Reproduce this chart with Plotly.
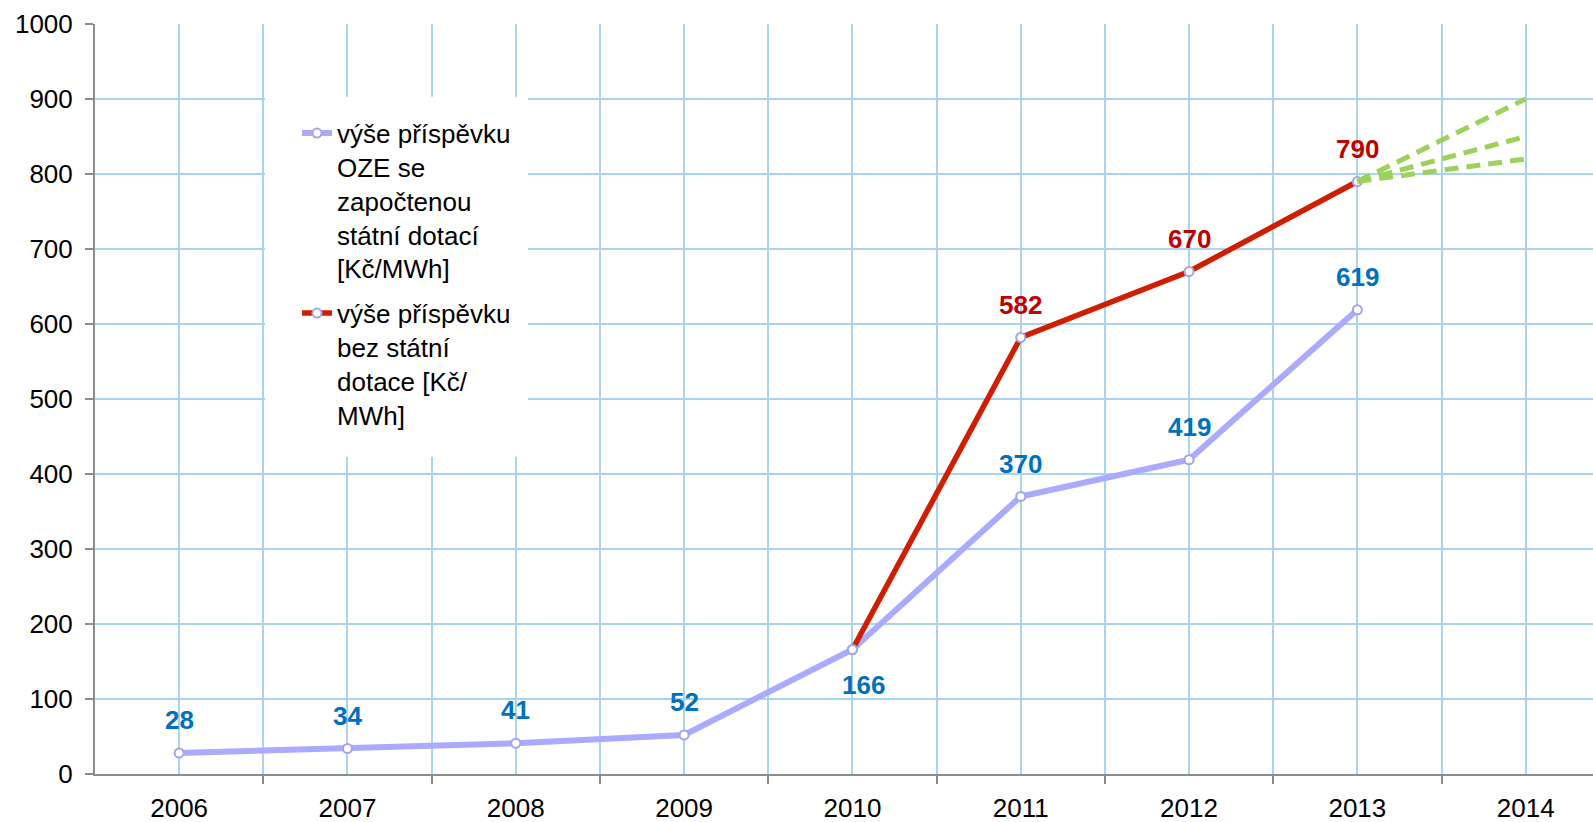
import plotly.graph_objects as go

years = [2006, 2007, 2008, 2009, 2010, 2011, 2012, 2013, 2014]
blue_years = [2006, 2007, 2008, 2009, 2010, 2011, 2012, 2013]
blue_values = [28, 34, 41, 52, 166, 370, 419, 619]
red_years = [2010, 2011, 2012, 2013]
red_values = [166, 582, 670, 790]
red_labelled_years = [2011, 2012, 2013]
proj_start_year = 2013
proj_start_value = 790
proj_end_year = 2014
proj_end_values = [900, 850, 820]

blue_name = "výše příspěvku<br>OZE se<br>započtenou<br>státní dotací<br>[Kč/MWh]"
red_name = "výše příspěvku<br>bez státní<br>dotace [Kč/<br>MWh]"

FONT = "Liberation Sans, Arial, sans-serif"
GRID = "#A9D4F0"
AXIS = "#8C8C8C"
BLUE_LINE = "#AAAAFF"
MARKER_EDGE = "#A4A4EE"
RED_LINE = "#D01E00"
GREEN = "#9CD25C"
BLUE_TXT = "#0070C0"
RED_TXT = "#C00000"

fig = go.Figure()

fig.add_trace(go.Scatter(
    x=blue_years, y=blue_values, mode="lines+markers", name=blue_name,
    legendgroup="a",
    line=dict(color=BLUE_LINE, width=6),
    marker=dict(size=9, color="white", line=dict(color=MARKER_EDGE, width=2)),
))
fig.add_trace(go.Scatter(
    x=red_years, y=red_values, mode="lines+markers", name=red_name,
    legendgroup="b",
    line=dict(color=RED_LINE, width=5.5),
    marker=dict(size=9, color="white", line=dict(color=MARKER_EDGE, width=2)),
))
for v in proj_end_values:
    fig.add_trace(go.Scatter(
        x=[proj_start_year, proj_end_year], y=[proj_start_value, v], mode="lines",
        line=dict(color=GREEN, width=5, dash="14px,8px"), showlegend=False,
        hoverinfo="skip",
    ))

annotations = []
for x, v in zip(blue_years, blue_values):
    below = (x == 2010)
    annotations.append(dict(
        x=x, y=v, xref="x", yref="y", text=str(v), showarrow=False,
        font=dict(family=FONT, size=26, color=BLUE_TXT, weight="bold"),
        yshift=-35 if below else 33, xshift=11 if below else 0,
    ))
for x, v in zip(red_years, red_values):
    if x in red_labelled_years:
        annotations.append(dict(
            x=x, y=v, xref="x", yref="y", text=str(v), showarrow=False,
            font=dict(family=FONT, size=26, color=RED_TXT, weight="bold"),
            yshift=33,
        ))

shapes = [dict(
    type="rect", xref="paper", yref="paper",
    x0=(265 - 95) / 1498, x1=(528 - 95) / 1498,
    y0=(774.3 - 457) / 750, y1=(774.3 - 97) / 750,
    fillcolor="white", line=dict(width=0), layer="above",
)]

fig.update_layout(
    width=1593, height=822,
    margin=dict(l=95, r=0, t=24, b=48),
    paper_bgcolor="white", plot_bgcolor="white",
    font=dict(family=FONT, size=26, color="black"),
    showlegend=True,
    legend=dict(
        x=(297 - 95) / 1498, y=(774.3 - 110) / 750, xanchor="left", yanchor="top",
        bgcolor="rgba(0,0,0,0)", font=dict(family=FONT, size=26, color="black"),
        valign="top", tracegroupgap=8,
    ),
    annotations=annotations,
    shapes=shapes,
    xaxis=dict(
        range=[2005.5, 2014.4], tickmode="array", tickvals=years,
        ticktext=[str(y) for y in years], ticks="",
        showgrid=True, gridcolor=GRID, gridwidth=1.5,
        showline=True, linecolor=AXIS, linewidth=2, zeroline=False,
        ticklabelstandoff=10, automargin=False,
        minor=dict(tickmode="array", tickvals=[y + 0.5 for y in years],
                   ticks="outside", ticklen=8, tickcolor=AXIS, tickwidth=2,
                   showgrid=True, gridcolor=GRID, gridwidth=1.5),
        fixedrange=True,
    ),
    yaxis=dict(
        range=[0, 1000], dtick=100, tick0=0,
        ticks="outside", ticklen=8, tickcolor=AXIS, tickwidth=2,
        showgrid=True, gridcolor=GRID, gridwidth=1.5,
        showline=True, linecolor=AXIS, linewidth=2, zeroline=False,
        ticklabelstandoff=7, automargin=False,
        fixedrange=True,
    ),
)

fig.write_html(
    "out.html",
    config={"displayModeBar": False},
    post_script="document.body.style.margin='0';document.body.style.overflow='hidden';",
)
